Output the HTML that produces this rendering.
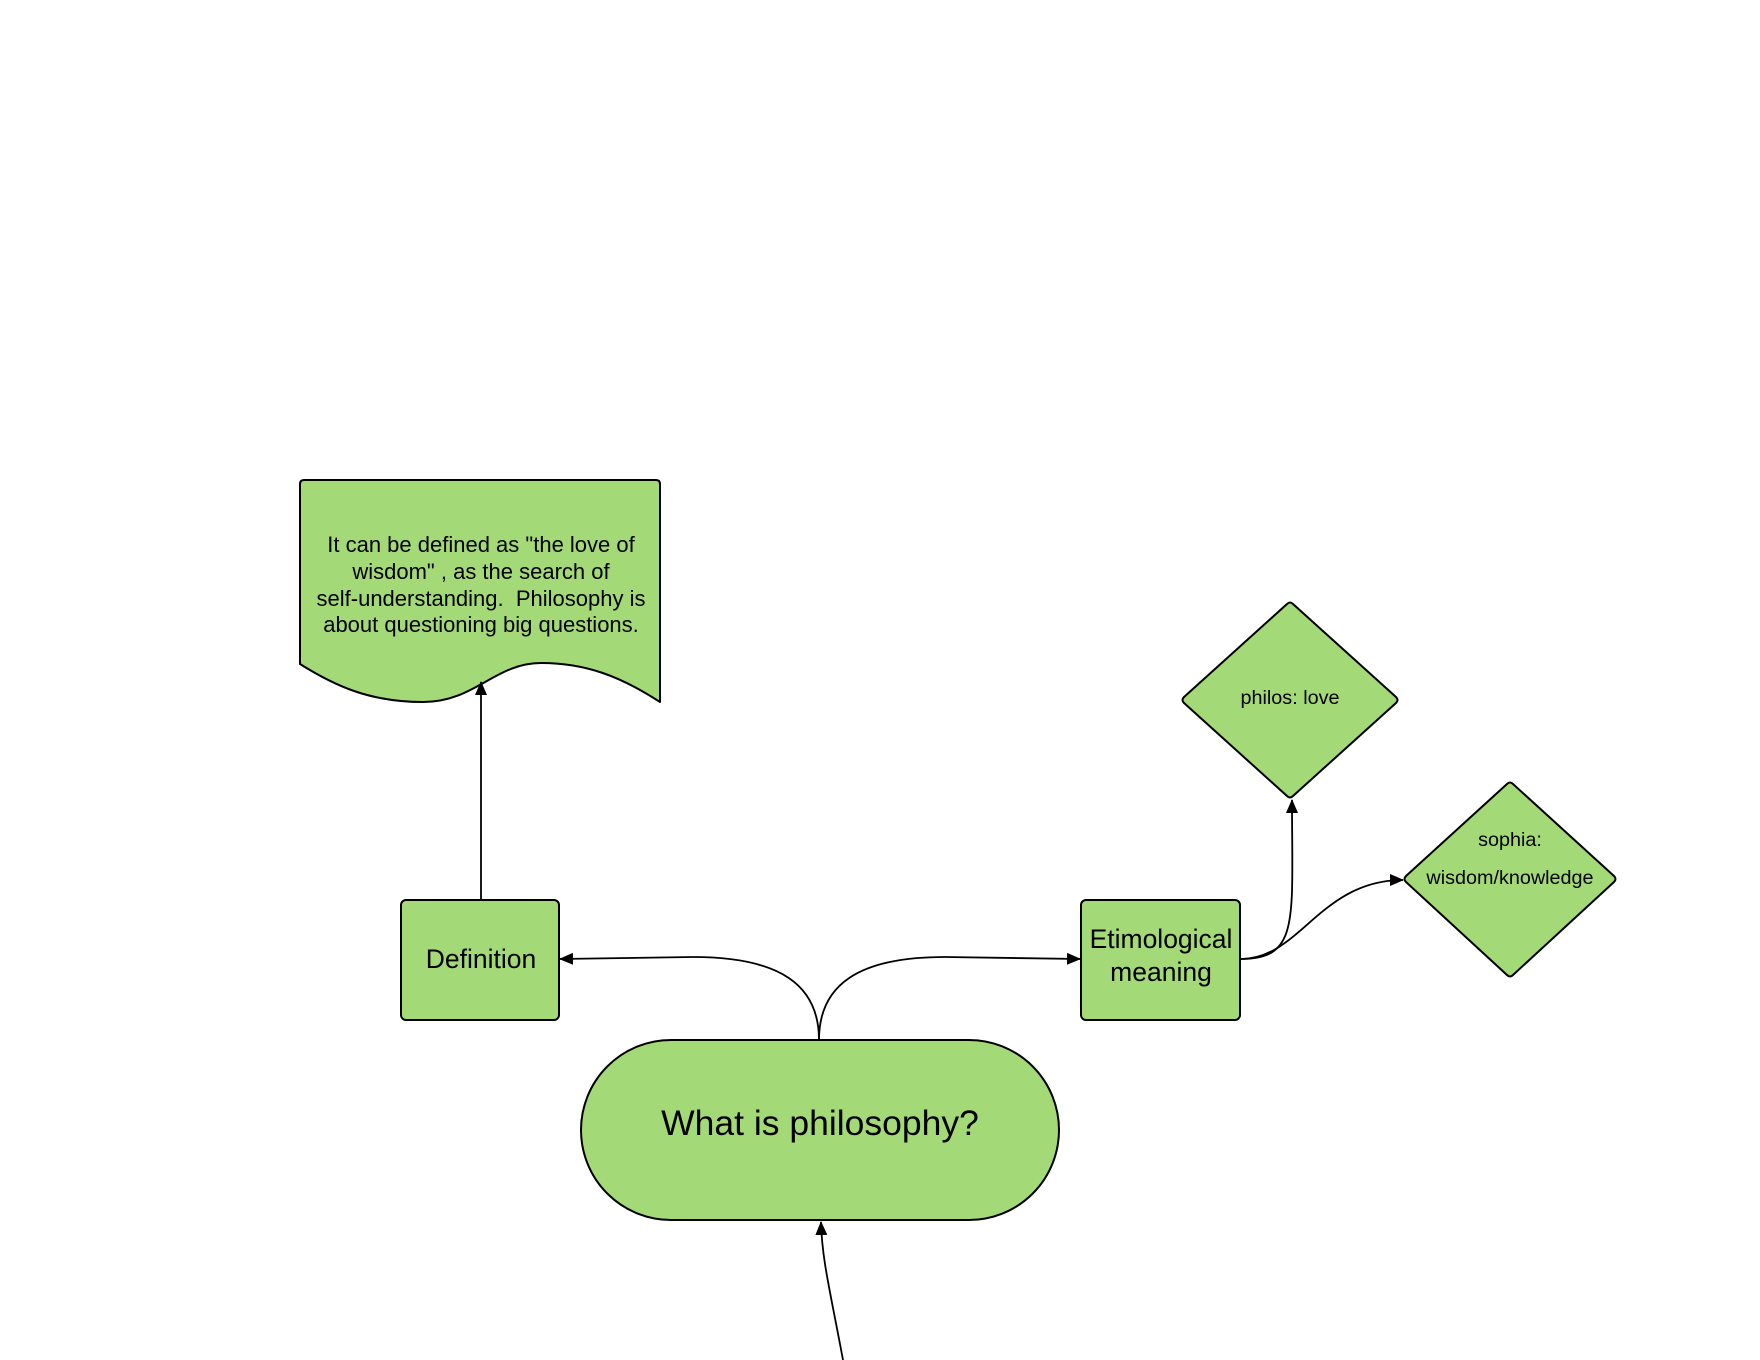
<!DOCTYPE html>
<html><head><meta charset="utf-8"><style>
html,body{margin:0;padding:0;background:#fff;}
svg{display:block;}
text{font-family:"Liberation Sans",Arial,sans-serif;fill:#000;}
</style></head><body>
<svg width="1760" height="1360" viewBox="0 0 1760 1360" xmlns="http://www.w3.org/2000/svg">
<defs>
<marker id="a" markerWidth="14" markerHeight="12" refX="13" refY="6" orient="auto" markerUnits="userSpaceOnUse">
<path d="M0,0 L14,6 L0,12 Z" fill="#000"/>
</marker>
</defs>
<g fill="#a3d977" stroke="#000" stroke-width="2" stroke-linejoin="round">
<path d="M304,480 L656,480 Q660,480 660,484 L660,702 C620,676 585,663 541,663 C495,663 475,702 423,702 C370,702 335,686 300,664 L300,484 Q300,480 304,480 Z"/>
<rect x="401" y="900" width="158" height="120" rx="5"/>
<rect x="1081" y="900" width="159" height="120" rx="5"/>
<rect x="581" y="1040" width="478" height="180" rx="90"/>
<path d="M1287,604 Q1290,601 1293,604 L1396,697 Q1399,700 1396,703 L1293,796 Q1290,799 1287,796 L1184,703 Q1181,700 1184,697 Z"/>
<path d="M1507,784 Q1510,781 1513,784 L1614,876 Q1617,879 1614,882 L1513,975 Q1510,978 1507,975 L1406,882 Q1403,879 1406,876 Z"/>
</g>
<g fill="none" stroke="#000" stroke-width="1.8">
<path d="M481,900 L481,682" marker-end="url(#a)"/>
<path d="M819,1040 C819,985 780,957 693,957 L560,959" marker-end="url(#a)"/>
<path d="M819,1040 C819,985 858,957 945,957 L1080,959" marker-end="url(#a)"/>
<path d="M1241,959 C1300,959 1292,920 1292,800" marker-end="url(#a)"/>
<path d="M1241,959 C1300,959 1320,880 1403,880" marker-end="url(#a)"/>
<path d="M843,1360 C830,1290 822,1260 821,1222" marker-end="url(#a)"/>
</g>
<g text-anchor="middle">
<text x="481" y="552" font-size="22">It can be defined as "the love of</text>
<text x="481" y="579" font-size="22">wisdom" , as the search of</text>
<text x="481" y="606" font-size="22">self-understanding.&#160; Philosophy is</text>
<text x="481" y="632" font-size="22">about questioning big questions.</text>
<text x="481" y="968" font-size="26.5">Definition</text>
<text x="1161" y="948" font-size="26.5">Etimological</text>
<text x="1161" y="981" font-size="26.5">meaning</text>
<text x="820" y="1135" font-size="35.5">What is philosophy?</text>
<text x="1290" y="704" font-size="19.8">philos: love</text>
<text x="1510" y="846" font-size="19.8">sophia:</text>
<text x="1510" y="884" font-size="19.8">wisdom/knowledge</text>
</g>
</svg>
</body></html>
